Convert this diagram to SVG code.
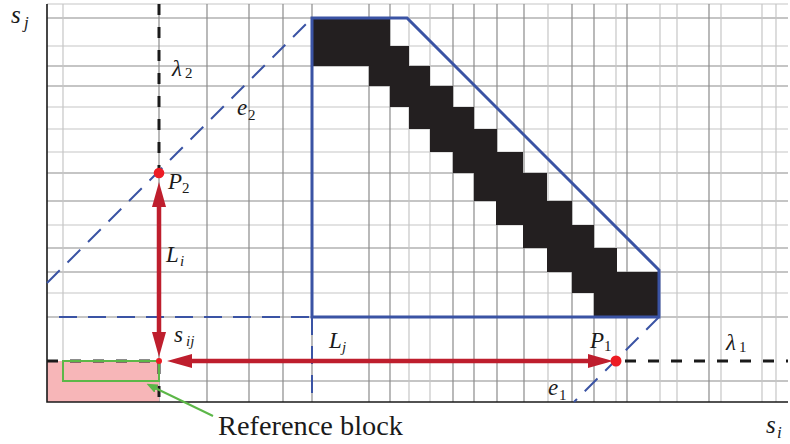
<svg xmlns="http://www.w3.org/2000/svg" width="790" height="444" viewBox="0 0 790 444">
<style>
.gd{stroke:#8c8c8c;stroke-width:1.2;fill:none}
.gl{stroke:#c6c6c6;stroke-width:1.2;fill:none}
.ax{stroke:#1a1a1a;stroke-width:1.6;fill:none}
.blue{stroke:#3a53a4;stroke-width:3;fill:none;stroke-linejoin:miter}
.bdash{stroke:#3a53a4;stroke-width:2;fill:none;stroke-dasharray:18 11}
.kdash{stroke:#1a1a1a;stroke-width:3;fill:none;stroke-dasharray:11 12}
.red{stroke:#be1e2d;stroke-width:4.5;fill:none}
.green{stroke:#5cb748;stroke-width:2;fill:none}
.dot{fill:#ed1c24}
.m{font-family:'Liberation Serif','Times New Roman',serif;font-style:italic;font-size:23px;fill:#1a1a1a}
.sub{font-family:'Liberation Serif','Times New Roman',serif;font-size:15px;fill:#1a1a1a}
.subi{font-family:'Liberation Serif','Times New Roman',serif;font-style:italic;font-size:15px;fill:#1a1a1a}
.t{font-family:'Liberation Serif','Times New Roman',serif;font-size:27px;fill:#1a1a1a}
</style>
<defs>
<marker id="rh" markerUnits="userSpaceOnUse" viewBox="0 0 25 14" markerWidth="25" markerHeight="14" refX="10" refY="7" orient="auto-start-reverse">
<path d="M0,0 L25,7 L0,14 Z" fill="#be1e2d"/>
</marker>
<marker id="gh" markerUnits="userSpaceOnUse" viewBox="0 0 11 9" markerWidth="11" markerHeight="9" refX="6" refY="4.5" orient="auto">
<path d="M0,0 L11,4.5 L0,9 Z" fill="#5cb748"/>
</marker>
</defs>
<rect width="790" height="444" fill="#ffffff"/>
<g id="grid">
<path class="gl" d="M47,4H788M47,46H788M47,107H788M47,129H788M47,152H788M47,225H788M47,293H788"/>
<path class="gd" d="M47,18H788M47,66H788M47,86H788M47,173H788M47,201H788M47,248H788M47,272H788M47,317H788M47,381H788"/>
<path class="gl" d="M63,4V402M409,4V402M430,4V402M548,4V402M616,4V402M660,4V402M677,4V402M721,4V402M762,4V402M776,4V402"/>
<path class="gd" d="M159,4V402M207,4V402M249,4V402M283,4V402M312,4V402M369,4V402M390,4V402M453,4V402M474,4V402M497,4V402M524,4V402M572,4V402M594,4V402M627,4V402M709,4V402"/>
</g>
<g id="reference-region">
<rect x="47" y="361" width="112" height="41" fill="#f7b6b8"/>
</g>
<g id="axes">
<path class="ax" d="M47,4V402H788"/>
</g>
<g id="staircase">
<path fill="#231f20" d="M313,18H390V46H409V66H430V86H453V107H474V129H497V152H523V173H547V201H572V225H594V248H617V272H659V317H594V293H572V272H547V248H523V225H496V201H474V173H453V152H430V129H409V107H390V86H369V66H313Z"/>
</g>
<g id="search-region">
<polygon class="blue" points="312,18 407,18 659,270 659,317 312,317"/>
</g>
<g id="guides">
<line class="bdash" x1="47" y1="283" x2="312" y2="18"/>
<line class="bdash" x1="659" y1="317" x2="574" y2="402"/>
<line class="bdash" x1="59" y1="317" x2="312" y2="317"/>
<line class="bdash" x1="312" y1="317" x2="312" y2="402"/>
<line class="kdash" x1="159" y1="4" x2="159" y2="170"/>
<line class="kdash" x1="159" y1="363" x2="159" y2="402"/>
<line class="kdash" x1="47" y1="361" x2="158" y2="361"/>
<line class="kdash" x1="625" y1="361" x2="788" y2="361"/>
</g>
<g id="reference-block">
<rect class="green" x="63" y="361" width="96" height="20"/>
</g>
<g id="connectors">
<line class="red" x1="159" y1="197" x2="159" y2="342" marker-start="url(#rh)" marker-end="url(#rh)"/>
<line class="red" x1="182" y1="361" x2="598" y2="361" marker-start="url(#rh)" marker-end="url(#rh)"/>
<line class="green" x1="213" y1="416" x2="151" y2="386" marker-end="url(#gh)"/>
</g>
<g id="P2"><circle class="dot" cx="159" cy="173" r="5.3"/></g>
<g id="sij"><circle class="dot" cx="159" cy="361" r="3"/></g>
<g id="P1"><circle class="dot" cx="616" cy="361" r="5.5"/></g>
<g id="labels">
<text class="m" x="11" y="23" style="font-size:25px">s</text><text class="subi" x="24" y="28" style="font-size:17px">j</text>
<text class="m" x="172" y="76">λ</text><text class="sub" x="185" y="78">2</text>
<text class="m" x="237" y="115">e</text><text class="sub" x="248" y="120">2</text>
<text class="m" x="168" y="189">P</text><text class="sub" x="182" y="193">2</text>
<text class="m" x="166" y="262">L</text><text class="subi" x="180" y="266">i</text>
<text class="m" x="174" y="342">s</text><text class="subi" x="186" y="346">ij</text>
<text class="m" x="329" y="348">L</text><text class="subi" x="342" y="352">j</text>
<text class="m" x="590" y="348">P</text><text class="sub" x="604" y="351">1</text>
<text class="m" x="726" y="350">λ</text><text class="sub" x="739" y="352">1</text>
<text class="m" x="548" y="395">e</text><text class="sub" x="559" y="400">1</text>
<text class="m" x="766" y="433" style="font-size:25px">s</text><text class="subi" x="777" y="438" style="font-size:17px">i</text>
<text class="t" x="218" y="435" textLength="185" lengthAdjust="spacingAndGlyphs">Reference block</text>
</g>
</svg>
